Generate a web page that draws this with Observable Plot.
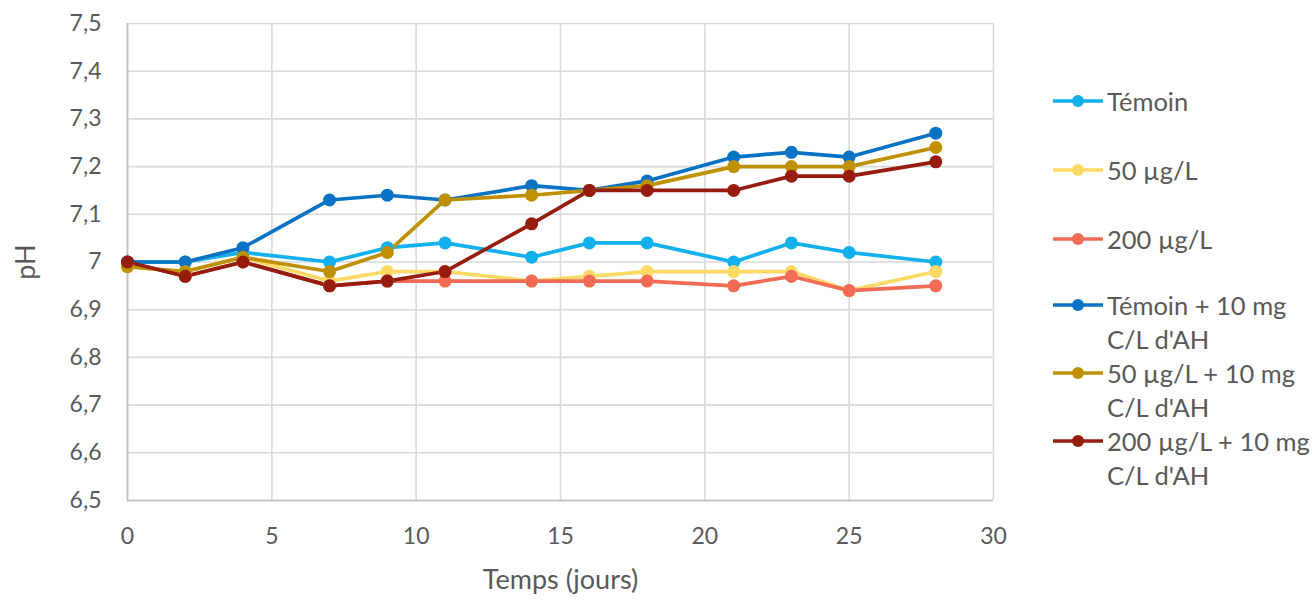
<!DOCTYPE html>
<html><head><meta charset="utf-8">
<script src="https://cdn.jsdelivr.net/npm/d3@7"></script>
<script src="https://cdn.jsdelivr.net/npm/@observablehq/plot@0.6"></script>
<style>
body{margin:0;background:#fff;font-family:Lato,"Open Sans",sans-serif;}
#wrap{position:relative;width:1312px;height:600px;}
#legend{position:absolute;left:1052px;top:84px;color:#595959;font-size:25.5px;line-height:34px;}
.item{display:flex;align-items:flex-start;}
.item svg{flex:none;margin-top:7px;margin-right:3px;}
</style></head><body>
<div id="wrap"><div id="chart"></div><div id="legend"></div></div>
<script>
const days = [0, 2, 4, 7, 9, 11, 14, 16, 18, 21, 23, 25, 28];
const seriesNames = ["Témoin", "50 µg/L", "200 µg/L", "Témoin + 10 mg C/L d'AH", "50 µg/L + 10 mg C/L d'AH", "200 µg/L + 10 mg C/L d'AH"];
const legendLines = [["Témoin"], ["50 µg/L"], ["200 µg/L"], ["Témoin + 10 mg", "C/L d'AH"], ["50 µg/L + 10 mg", "C/L d'AH"], ["200 µg/L + 10 mg", "C/L d'AH"]];
const colors = ["#12B0EC", "#FFD966", "#F26B55", "#0872C4", "#BF9000", "#961C0E"];
const temoin      = [7.00, 7.00, 7.02, 7.00, 7.03, 7.04, 7.01, 7.04, 7.04, 7.00, 7.04, 7.02, 7.00];
const c50         = [6.99, 6.98, 7.01, 6.96, 6.98, 6.98, 6.96, 6.97, 6.98, 6.98, 6.98, 6.94, 6.98];
const c200        = [7.00, 6.97, 7.00, 6.95, 6.96, 6.96, 6.96, 6.96, 6.96, 6.95, 6.97, 6.94, 6.95];
const temoinAH    = [7.00, 7.00, 7.03, 7.13, 7.14, 7.13, 7.16, 7.15, 7.17, 7.22, 7.23, 7.22, 7.27];
const c50AH       = [6.99, 6.98, 7.01, 6.98, 7.02, 7.13, 7.14, 7.15, 7.16, 7.20, 7.20, 7.20, 7.24];
const c200AH      = [7.00, 6.97, 7.00, 6.95, 6.96, 6.98, 7.08, 7.15, 7.15, 7.15, 7.18, 7.18, 7.21];
const xTicks = [0, 5, 10, 15, 20, 25, 30];
const yTicks = [6.5, 6.6, 6.7, 6.8, 6.9, 7.0, 7.1, 7.2, 7.3, 7.4, 7.5];
const yTickLabels = ["6,5", "6,6", "6,7", "6,8", "6,9", "7", "7,1", "7,2", "7,3", "7,4", "7,5"];

const allSeries = [temoin, c50, c200, temoinAH, c50AH, c200AH];
const data = [];
allSeries.forEach((vals, si) => vals.forEach((v, i) => data.push({serie: seriesNames[si], day: days[i], ph: v})));

const plot = Plot.plot({
  width: 1040, height: 600,
  marginLeft: 127, marginRight: 47, marginTop: 23, marginBottom: 100,
  style: {fontFamily: "Lato, 'Open Sans', sans-serif", fontSize: "23px", color: "#595959", background: "#fff"},
  x: {domain: [0, 30], ticks: xTicks, tickSize: 0, tickPadding: 27, label: "Temps (jours)", labelArrow: "none", labelAnchor: "center", labelOffset: 88},
  y: {domain: [6.5, 7.5], ticks: yTicks, tickSize: 0, tickPadding: 26, tickFormat: d => yTickLabels[yTicks.indexOf(d)], label: "pH", labelArrow: "none", labelAnchor: "center", labelOffset: 112},
  color: {domain: seriesNames, range: colors},
  marks: [
    Plot.ruleY(yTicks, {stroke: "#d9d9d9", strokeWidth: 1.6}),
    Plot.ruleX(xTicks, {stroke: "#d9d9d9", strokeWidth: 1.6}),
    Plot.ruleX([0], {stroke: "#bfbfbf", strokeWidth: 1.6}),
    Plot.ruleY([6.5], {stroke: "#bfbfbf", strokeWidth: 1.6}),
    ...seriesNames.map(s => Plot.line(data.filter(d => d.serie === s), {x: "day", y: "ph", stroke: "serie", strokeWidth: 3.7})),
    ...seriesNames.map(s => Plot.dot(data.filter(d => d.serie === s), {x: "day", y: "ph", fill: "serie", r: 6.5}))
  ]
});
plot.querySelectorAll("g[aria-label='y-axis label'] text, g[aria-label='x-axis label'] text").forEach(t => t.setAttribute("font-size", "27px"));
document.getElementById("chart").appendChild(plot);

const legend = document.getElementById("legend");
const gaps = [0, 35, 35, 32, 0, 0];
seriesNames.forEach((s, i) => {
  const item = document.createElement("div");
  item.className = "item";
  item.style.marginTop = gaps[i] + "px";
  item.innerHTML = `<svg width="52" height="20"><line x1="1" x2="51" y1="10" y2="10" stroke="${colors[i]}" stroke-width="3.5"/><circle cx="26" cy="10" r="6" fill="${colors[i]}"/></svg><div>${legendLines[i].join("<br>")}</div>`;
  legend.appendChild(item);
});
</script></body></html>
